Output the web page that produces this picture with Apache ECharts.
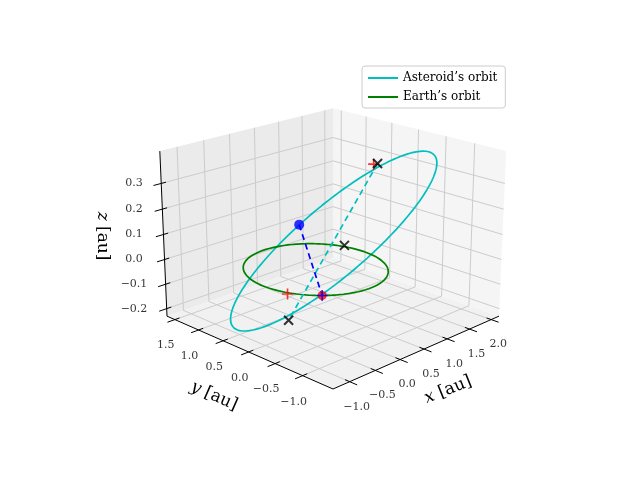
<!DOCTYPE html>
<html><head><meta charset="utf-8">
<script src="https://cdn.jsdelivr.net/npm/echarts@6/dist/echarts.min.js"></script>
<style>html,body{margin:0;padding:0;background:#fff}#c{width:640px;height:480px}</style>
</head><body><div id="c"></div>
<script>
// ---------- data ----------
const xRange = [-1.315, 2.185];
const yRange = [-1.53, 1.67];
const zRange = [-0.231, 0.424];
const xTicks = [-1.0, -0.5, 0.0, 0.5, 1.0, 1.5, 2.0];
const yTicks = [-1.0, -0.5, 0.0, 0.5, 1.0, 1.5];
const zTicks = [-0.2, -0.1, 0.0, 0.1, 0.2, 0.3];
const earthRadius = 1.0;
const asteroidCenter = [0.50, 0.10, 0.075];
const asteroidAxisU = [1.53, -0.51, 0.28];
const asteroidAxisV = [0.20, 0.61, 0.05];
const blackCrosses = [[1.22, -0.058, 0.342], [0.222, -0.336, 0.1], [-0.96, -0.41, -0.1]];
const redPluses = [[1.155, -0.042, 0.342], [-0.964, -0.40, 0.0]];
const asteroidPos = [0.39, 0.68, 0.1];
const earthPos = [-0.667, -0.745, 0.0];
const nodeLine = [[1.22, -0.058, 0.342], [-0.96, -0.41, -0.1]];

// ---------- projection ----------
const EL = 19.5 * Math.PI / 180, DIST = 11.5, H = 0.73;
const ce = Math.cos(EL), se = Math.sin(EL), r2 = Math.SQRT1_2;
const dv = [-ce * r2, -ce * r2, se], rv = [r2, -r2, 0], uv = [se * r2, se * r2, ce];
function dot(a, b) { return a[0]*b[0] + a[1]*b[1] + a[2]*b[2]; }
function raw(X, Y, Z) {
  const P = [X, Y, Z];
  const depth = DIST - dot(P, dv);
  return [dot(P, rv) * DIST / depth, dot(P, uv) * DIST / depth];
}
const F0 = raw(-1, -1, -H), R0 = raw(1, -1, -H);
const S = 166 / (R0[0] - F0[0]);
const CX = 333 - S * F0[0], CY = 389 + S * F0[1];
function boxP(X, Y, Z) { const p = raw(X, Y, Z); return [CX + S * p[0], CY - S * p[1]]; }
function nx(x) { return 2 * (x - xRange[0]) / (xRange[1] - xRange[0]) - 1; }
function ny(y) { return 2 * (y - yRange[0]) / (yRange[1] - yRange[0]) - 1; }
function nz(z) { return H * (2 * (z - zRange[0]) / (zRange[1] - zRange[0]) - 1); }
function P(p) { return boxP(nx(p[0]), ny(p[1]), nz(p[2])); }

// ---------- derived geometry ----------
const N = 200;
const earthLine = [], astLine = [];
for (let i = 0; i <= N; i++) {
  const t = 2 * Math.PI * i / N;
  earthLine.push(P([earthRadius * Math.cos(t), earthRadius * Math.sin(t), 0]));
  astLine.push(P([0,1,2].map(k => asteroidCenter[k] + Math.cos(t) * asteroidAxisU[k] + Math.sin(t) * asteroidAxisV[k])));
}
const [x0, x1] = xRange, [y0, y1] = yRange, [z0, z1] = zRange;
const panes = [
  {pts: [[x0,y1,z0],[x1,y1,z0],[x1,y1,z1],[x0,y1,z1]], color: '#ebebeb'},
  {pts: [[x1,y0,z0],[x1,y1,z0],[x1,y1,z1],[x1,y0,z1]], color: '#f5f5f5'},
  {pts: [[x0,y0,z0],[x1,y0,z0],[x1,y1,z0],[x0,y1,z0]], color: '#f1f1f1'}
];
const grid = [];
xTicks.forEach(x => { grid.push([[x,y0,z0],[x,y1,z0],[x,y1,z1]]); });
yTicks.forEach(y => { grid.push([[x0,y,z0],[x1,y,z0],[x1,y,z1]]); });
zTicks.forEach(z => { grid.push([[x0,y1,z],[x1,y1,z],[x1,y0,z]]); });
const axes = [[[x0,y0,z0],[x1,y0,z0]], [[x0,y0,z0],[x0,y1,z0]], [[x0,y1,z0],[x0,y1,z1]]];
const ticks = [];
const dy = (y1 - y0) * 0.025, dx = (x1 - x0) * 0.025;
xTicks.forEach(x => ticks.push([[x, y0 + dy, z0], [x, y0 - 1.6*dy, z0]]));
yTicks.forEach(y => ticks.push([[x0 + dx, y, z0], [x0 - 1.6*dx, y, z0]]));
zTicks.forEach(z => ticks.push([[x0 + dx, y1, z], [x0 - 1.6*dx, y1, z]]));

function fmt(v) { const s = Math.abs(v).toFixed(1); return v < 0 ? '\u2212' + s : s; }
const labelData = [];
xTicks.forEach(x => { const p = P([x, y0, z0]); labelData.push({value: [p[0] + 7, p[1] + 25], t: fmt(x)}); });
yTicks.forEach(y => { const p = P([x0, y, z0]); labelData.push({value: [p[0] - 9, p[1] + 26], t: fmt(y)}); });
zTicks.forEach(z => { const p = P([x0, y1, z]); labelData.push({value: [134, p[1]], t: fmt(z)}); });

const FONT = '"DejaVu Serif", "Liberation Serif", serif';
function polyRender(list, style) {
  return function (params, api) {
    const item = list[params.dataIndex];
    const pts = (item.pts || item).map(p => api.coord(P(p)));
    return item.pts
      ? {type: 'polygon', shape: {points: pts}, style: {fill: item.color}}
      : {type: 'polyline', shape: {points: pts}, style: Object.assign({fill: null}, style)};
  };
}
const idx = a => a.map((_, i) => [i]);
const xPath = 'path://M0,0L10,10M10,0L0,10';
const plusPath = 'path://M5,0L5,10M0,5L10,5';

const chart = echarts.init(document.getElementById('c'), null, {renderer: 'canvas'});
chart.setOption({
  animation: false,
  grid: {left: 0, right: 0, top: 0, bottom: 0},
  xAxis: {type: 'value', min: 0, max: 640, show: false},
  yAxis: {type: 'value', min: 0, max: 480, inverse: true, show: false},
  legend: {
    left: 362, top: 66, orient: 'vertical', itemWidth: 30, itemHeight: 2, itemGap: 7,
    padding: [6, 8, 5, 6], borderColor: '#cccccc', borderWidth: 1, borderRadius: 3,
    backgroundColor: 'rgba(255,255,255,0.8)', icon: 'rect',
    textStyle: {fontFamily: FONT, fontSize: 12, color: '#000'},
    data: ["Asteroid\u2019s orbit", "Earth\u2019s orbit"]
  },
  series: [
    {type: 'custom', data: idx(panes), renderItem: polyRender(panes), silent: true, z: 1},
    {type: 'custom', data: idx(grid), renderItem: polyRender(grid, {stroke: '#cccccc', lineWidth: 1}), silent: true, z: 2},
    {type: 'custom', data: idx(axes), renderItem: polyRender(axes, {stroke: '#000', lineWidth: 1}), silent: true, z: 3},
    {type: 'custom', data: idx(ticks), renderItem: polyRender(ticks, {stroke: '#000', lineWidth: 1}), silent: true, z: 3},
    {type: 'scatter', data: labelData.map(d => ({value: d.value, t: d.t})), symbolSize: 0, silent: true, z: 4,
      label: {show: true, position: 'inside', fontFamily: FONT, fontSize: 11, color: '#000',
        formatter: p => p.data.t}},
    {name: "Asteroid\u2019s orbit", type: 'line', data: astLine, showSymbol: false, symbol: 'none', z: 5,
      lineStyle: {color: '#00bfbf', width: 1.7}, itemStyle: {color: '#00bfbf'}},
    {name: "Earth\u2019s orbit", type: 'line', data: earthLine, showSymbol: false, symbol: 'none', z: 5,
      lineStyle: {color: '#008000', width: 1.7}, itemStyle: {color: '#008000'}},
    {type: 'line', data: nodeLine.map(P), showSymbol: false, symbol: 'none', z: 5,
      lineStyle: {color: '#00bfbf', width: 1.7, type: [6, 4]}},
    {type: 'line', data: [asteroidPos, earthPos].map(P), showSymbol: false, symbol: 'none', z: 5,
      lineStyle: {color: '#0000ff', width: 1.7, type: [6, 4]}},
    {type: 'scatter', data: [P(earthPos)], symbol: 'circle', symbolSize: 9, z: 6, itemStyle: {color: '#ff0000'}},
    {type: 'scatter', data: [P(asteroidPos)], symbol: 'circle', symbolSize: 10, z: 6, itemStyle: {color: '#0000ff'}},
    {type: 'scatter', data: redPluses.map(P), symbol: plusPath, symbolSize: 11, z: 7,
      itemStyle: {color: 'none', borderColor: '#ff0000', borderWidth: 1.6}},
    {type: 'scatter', data: [P(earthPos)], symbol: plusPath, symbolSize: 11, z: 7,
      itemStyle: {color: 'none', borderColor: '#0000ff', borderWidth: 1.6}},
    {type: 'scatter', data: blackCrosses.map(P), symbol: xPath, symbolSize: 9, z: 8,
      itemStyle: {color: 'none', borderColor: '#000', borderWidth: 2}}
  ],
  graphic: [
    {type: 'text', x: 448, y: 390, rotation: 22 * Math.PI / 180,
      style: {text: '{i|x} [au]', fontFamily: FONT, fontSize: 17, fill: '#000', align: 'center', verticalAlign: 'middle',
        rich: {i: {fontStyle: 'italic', fontFamily: FONT, fontSize: 17}}}},
    {type: 'text', x: 214, y: 396, rotation: -24 * Math.PI / 180,
      style: {text: '{i|y} [au]', fontFamily: FONT, fontSize: 17, fill: '#000', align: 'center', verticalAlign: 'middle',
        rich: {i: {fontStyle: 'italic', fontFamily: FONT, fontSize: 17}}}},
    {type: 'text', x: 102, y: 236, rotation: -Math.PI / 2,
      style: {text: '{i|z} [au]', fontFamily: FONT, fontSize: 17, fill: '#000', align: 'center', verticalAlign: 'middle',
        rich: {i: {fontStyle: 'italic', fontFamily: FONT, fontSize: 17}}}}
  ]
});
</script></body></html>
